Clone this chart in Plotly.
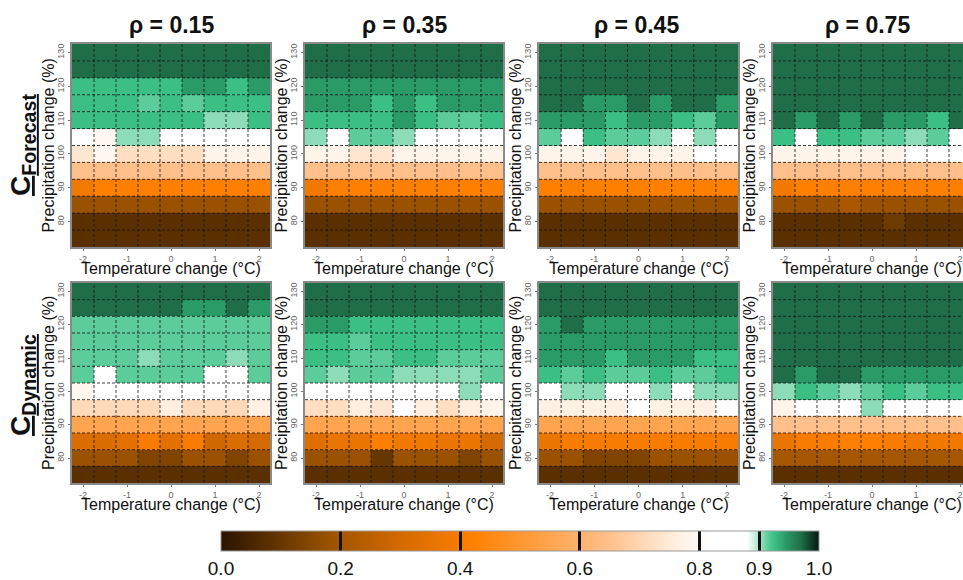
import plotly.graph_objects as go

# ---------------- data ----------------
temp_change = [-2, -1.5, -1, -0.5, 0, 0.5, 1, 1.5, 2]
precip_change = [130, 125, 120, 115, 110, 105, 100, 95, 90, 85, 80, 75]
rho_labels = ["ρ = 0.15", "ρ = 0.35", "ρ = 0.45", "ρ = 0.75"]
row_labels = ["Forecast", "Dynamic"]
x_tick_vals = [-2, -1, 0, 1, 2]
y_tick_vals = [80, 90, 100, 110, 120, 130]
cbar_tick_vals = [0.0, 0.2, 0.4, 0.6, 0.8, 0.9, 1.0]
cbar_tick_text = ["0.0", "0.2", "0.4", "0.6", "0.8", "0.9", "1.0"]

# rows: precipitation 130 (top) ... 75 (bottom); columns: temperature -2 ... 2
forecast_015 = [
    [0.97, 0.97, 0.97, 0.97, 0.97, 0.97, 0.97, 0.97, 0.97],
    [0.97, 0.97, 0.97, 0.97, 0.97, 0.97, 0.97, 0.97, 0.97],
    [0.925, 0.925, 0.925, 0.925, 0.925, 0.945, 0.945, 0.925, 0.945],
    [0.925, 0.925, 0.925, 0.915, 0.925, 0.915, 0.925, 0.925, 0.925],
    [0.925, 0.925, 0.925, 0.925, 0.925, 0.925, 0.905, 0.905, 0.925],
    [0.86, 0.79, 0.905, 0.905, 0.86, 0.86, 0.86, 0.86, 0.86],
    [0.74, 0.79, 0.72, 0.72, 0.72, 0.72, 0.78, 0.78, 0.78],
    [0.65, 0.65, 0.65, 0.65, 0.65, 0.65, 0.65, 0.65, 0.65],
    [0.38, 0.42, 0.42, 0.42, 0.42, 0.42, 0.42, 0.42, 0.42],
    [0.18, 0.18, 0.18, 0.18, 0.18, 0.18, 0.18, 0.18, 0.18],
    [0.08, 0.08, 0.08, 0.08, 0.08, 0.08, 0.08, 0.08, 0.08],
    [0.08, 0.08, 0.08, 0.08, 0.08, 0.08, 0.08, 0.08, 0.08],
]
forecast_035 = [
    [0.97, 0.97, 0.97, 0.97, 0.97, 0.97, 0.97, 0.97, 0.97],
    [0.97, 0.97, 0.97, 0.97, 0.97, 0.97, 0.97, 0.97, 0.97],
    [0.945, 0.945, 0.945, 0.945, 0.945, 0.945, 0.945, 0.945, 0.945],
    [0.945, 0.945, 0.945, 0.925, 0.945, 0.925, 0.945, 0.945, 0.945],
    [0.925, 0.925, 0.925, 0.925, 0.945, 0.925, 0.915, 0.915, 0.925],
    [0.905, 0.86, 0.915, 0.915, 0.905, 0.86, 0.86, 0.86, 0.86],
    [0.78, 0.78, 0.74, 0.74, 0.78, 0.78, 0.78, 0.78, 0.78],
    [0.65, 0.65, 0.65, 0.65, 0.65, 0.65, 0.65, 0.65, 0.65],
    [0.38, 0.42, 0.42, 0.42, 0.42, 0.42, 0.42, 0.42, 0.42],
    [0.18, 0.18, 0.18, 0.18, 0.18, 0.18, 0.18, 0.18, 0.18],
    [0.08, 0.08, 0.08, 0.08, 0.08, 0.08, 0.08, 0.08, 0.08],
    [0.08, 0.08, 0.08, 0.08, 0.08, 0.08, 0.08, 0.08, 0.08],
]
forecast_045 = [
    [0.97, 0.97, 0.97, 0.97, 0.97, 0.97, 0.97, 0.97, 0.97],
    [0.97, 0.97, 0.97, 0.97, 0.97, 0.97, 0.97, 0.97, 0.97],
    [0.97, 0.97, 0.97, 0.97, 0.97, 0.97, 0.97, 0.97, 0.97],
    [0.97, 0.97, 0.945, 0.945, 0.97, 0.945, 0.97, 0.97, 0.945],
    [0.945, 0.945, 0.945, 0.925, 0.945, 0.945, 0.925, 0.915, 0.945],
    [0.915, 0.86, 0.925, 0.915, 0.915, 0.905, 0.86, 0.905, 0.86],
    [0.78, 0.78, 0.78, 0.74, 0.78, 0.78, 0.78, 0.86, 0.86],
    [0.65, 0.65, 0.65, 0.65, 0.65, 0.65, 0.65, 0.65, 0.65],
    [0.42, 0.42, 0.42, 0.42, 0.42, 0.42, 0.42, 0.42, 0.42],
    [0.18, 0.18, 0.18, 0.18, 0.18, 0.18, 0.18, 0.18, 0.18],
    [0.08, 0.08, 0.08, 0.08, 0.08, 0.08, 0.08, 0.08, 0.08],
    [0.08, 0.08, 0.08, 0.08, 0.08, 0.08, 0.08, 0.08, 0.08],
]
forecast_075 = [
    [0.97, 0.97, 0.97, 0.97, 0.97, 0.97, 0.97, 0.97, 0.97],
    [0.97, 0.97, 0.97, 0.97, 0.97, 0.97, 0.97, 0.97, 0.97],
    [0.97, 0.97, 0.97, 0.97, 0.97, 0.97, 0.97, 0.97, 0.97],
    [0.97, 0.97, 0.97, 0.97, 0.97, 0.97, 0.97, 0.97, 0.97],
    [0.97, 0.945, 0.97, 0.945, 0.97, 0.945, 0.945, 0.925, 0.97],
    [0.925, 0.86, 0.925, 0.925, 0.915, 0.915, 0.905, 0.915, 0.86],
    [0.78, 0.78, 0.78, 0.78, 0.78, 0.78, 0.86, 0.86, 0.86],
    [0.65, 0.65, 0.65, 0.65, 0.65, 0.65, 0.65, 0.65, 0.65],
    [0.38, 0.42, 0.42, 0.42, 0.42, 0.42, 0.42, 0.42, 0.42],
    [0.18, 0.18, 0.18, 0.21, 0.18, 0.18, 0.18, 0.18, 0.18],
    [0.08, 0.08, 0.08, 0.08, 0.08, 0.11, 0.08, 0.08, 0.08],
    [0.08, 0.08, 0.08, 0.08, 0.08, 0.08, 0.08, 0.08, 0.08],
]
dynamic_015 = [
    [0.97, 0.97, 0.97, 0.97, 0.97, 0.97, 0.97, 0.97, 0.97],
    [0.97, 0.97, 0.97, 0.97, 0.97, 0.945, 0.945, 0.97, 0.945],
    [0.915, 0.915, 0.915, 0.915, 0.915, 0.915, 0.915, 0.915, 0.915],
    [0.915, 0.915, 0.915, 0.915, 0.915, 0.915, 0.915, 0.915, 0.915],
    [0.915, 0.915, 0.915, 0.905, 0.915, 0.915, 0.915, 0.905, 0.915],
    [0.915, 0.86, 0.915, 0.915, 0.915, 0.915, 0.86, 0.86, 0.915],
    [0.79, 0.86, 0.86, 0.86, 0.86, 0.86, 0.86, 0.86, 0.86],
    [0.71, 0.71, 0.71, 0.71, 0.76, 0.71, 0.71, 0.71, 0.77],
    [0.55, 0.55, 0.55, 0.55, 0.55, 0.55, 0.55, 0.55, 0.55],
    [0.32, 0.32, 0.34, 0.40, 0.34, 0.40, 0.29, 0.32, 0.30],
    [0.18, 0.18, 0.18, 0.14, 0.14, 0.18, 0.18, 0.14, 0.18],
    [0.08, 0.08, 0.08, 0.08, 0.08, 0.08, 0.08, 0.08, 0.08],
]
dynamic_035 = [
    [0.97, 0.97, 0.97, 0.97, 0.97, 0.97, 0.97, 0.97, 0.97],
    [0.97, 0.97, 0.97, 0.97, 0.97, 0.97, 0.97, 0.97, 0.97],
    [0.945, 0.945, 0.925, 0.925, 0.925, 0.925, 0.925, 0.925, 0.925],
    [0.925, 0.925, 0.915, 0.925, 0.925, 0.925, 0.925, 0.925, 0.925],
    [0.925, 0.925, 0.915, 0.915, 0.925, 0.925, 0.915, 0.915, 0.915],
    [0.915, 0.905, 0.915, 0.915, 0.905, 0.905, 0.905, 0.905, 0.915],
    [0.86, 0.86, 0.86, 0.86, 0.86, 0.86, 0.86, 0.905, 0.86],
    [0.72, 0.72, 0.76, 0.74, 0.86, 0.76, 0.72, 0.76, 0.78],
    [0.55, 0.55, 0.55, 0.55, 0.55, 0.55, 0.55, 0.55, 0.55],
    [0.33, 0.36, 0.36, 0.42, 0.38, 0.38, 0.36, 0.36, 0.30],
    [0.18, 0.18, 0.18, 0.10, 0.18, 0.18, 0.18, 0.14, 0.18],
    [0.08, 0.08, 0.08, 0.08, 0.08, 0.08, 0.08, 0.08, 0.08],
]
dynamic_045 = [
    [0.97, 0.97, 0.97, 0.97, 0.97, 0.97, 0.97, 0.97, 0.97],
    [0.97, 0.97, 0.97, 0.97, 0.97, 0.97, 0.97, 0.97, 0.97],
    [0.945, 0.97, 0.945, 0.945, 0.945, 0.945, 0.945, 0.945, 0.945],
    [0.945, 0.945, 0.945, 0.945, 0.945, 0.945, 0.945, 0.945, 0.945],
    [0.945, 0.945, 0.945, 0.925, 0.945, 0.945, 0.945, 0.925, 0.925],
    [0.925, 0.915, 0.925, 0.915, 0.915, 0.925, 0.915, 0.915, 0.925],
    [0.86, 0.905, 0.905, 0.86, 0.86, 0.905, 0.86, 0.905, 0.905],
    [0.77, 0.77, 0.77, 0.77, 0.86, 0.77, 0.77, 0.77, 0.86],
    [0.55, 0.55, 0.55, 0.55, 0.55, 0.55, 0.55, 0.55, 0.55],
    [0.36, 0.40, 0.40, 0.40, 0.40, 0.40, 0.40, 0.40, 0.40],
    [0.18, 0.18, 0.14, 0.14, 0.14, 0.18, 0.18, 0.18, 0.18],
    [0.08, 0.08, 0.08, 0.08, 0.08, 0.08, 0.08, 0.08, 0.08],
]
dynamic_075 = [
    [0.97, 0.97, 0.97, 0.97, 0.97, 0.97, 0.97, 0.97, 0.97],
    [0.97, 0.97, 0.97, 0.97, 0.97, 0.97, 0.97, 0.97, 0.97],
    [0.97, 0.97, 0.97, 0.97, 0.97, 0.97, 0.97, 0.97, 0.97],
    [0.97, 0.97, 0.97, 0.97, 0.97, 0.97, 0.97, 0.97, 0.97],
    [0.97, 0.97, 0.97, 0.97, 0.97, 0.97, 0.97, 0.97, 0.97],
    [0.97, 0.945, 0.97, 0.97, 0.945, 0.945, 0.945, 0.945, 0.945],
    [0.905, 0.925, 0.915, 0.905, 0.915, 0.925, 0.915, 0.925, 0.925],
    [0.78, 0.86, 0.86, 0.86, 0.905, 0.86, 0.86, 0.86, 0.86],
    [0.65, 0.65, 0.65, 0.65, 0.65, 0.65, 0.65, 0.65, 0.65],
    [0.36, 0.40, 0.40, 0.42, 0.42, 0.40, 0.38, 0.38, 0.38],
    [0.20, 0.20, 0.20, 0.20, 0.20, 0.20, 0.20, 0.20, 0.20],
    [0.08, 0.08, 0.08, 0.08, 0.08, 0.08, 0.08, 0.08, 0.08],
]
panels = [forecast_015, forecast_035, forecast_045, forecast_075,
          dynamic_015, dynamic_035, dynamic_045, dynamic_075]

# ---------------- styling ----------------
W, H = 963, 580
FONT = "Arial, Liberation Sans, sans-serif"
colorscale = [
    [0.0, "#2a1400"], [0.08, "#5a3000"], [0.18, "#9a5200"], [0.30, "#d46a00"],
    [0.42, "#ff8000"], [0.55, "#ffa54f"], [0.65, "#ffc08c"], [0.76, "#ffefe0"],
    [0.82, "#ffffff"], [0.88, "#ffffff"], [0.905, "#8ddcb8"], [0.915, "#5ccc9a"],
    [0.925, "#3cbf85"], [0.945, "#2a9a66"], [0.97, "#1f6e48"], [1.0, "#06180e"],
]
col_left = [72, 305, 539, 773]
col_width = [198, 198, 199, 198]
row_top = [44, 283]
row_height = [203, 200]

fig = go.Figure()
layout = dict(
    width=W, height=H, margin=dict(l=0, r=0, t=0, b=0, autoexpand=False),
    paper_bgcolor="white", plot_bgcolor="white",
    font=dict(family=FONT, color="#111"),
    showlegend=False,
    coloraxis=dict(
        colorscale=colorscale, cmin=0, cmax=1,
        colorbar=dict(
            orientation="h", lenmode="pixels", len=598, thickness=20,
            x=520 / W, xanchor="center", y=(H - 531) / H, yanchor="top",
            xpad=0, ypad=0,
            tickvals=cbar_tick_vals, ticktext=cbar_tick_text,
            ticks="inside", ticklen=20, tickwidth=3, tickcolor="#111",
            tickfont=dict(size=19, color="#111", family=FONT),
            outlinecolor="#999", outlinewidth=1,
        ),
    ),
)
shapes = []
annotations = []

x_bounds = [(temp_change[i] + temp_change[i + 1]) / 2 for i in range(len(temp_change) - 1)]
y_bounds = [(precip_change[i] + precip_change[i + 1]) / 2 for i in range(len(precip_change) - 1)]
dx = (temp_change[1] - temp_change[0]) / 2
dy = (precip_change[0] - precip_change[1]) / 2
x_lo, x_hi = temp_change[0] - dx, temp_change[-1] + dx
y_lo, y_hi = precip_change[-1] - dy, precip_change[0] + dy

for idx, z in enumerate(panels):
    r, c = divmod(idx, 4)
    n = idx + 1
    xa = "x" if n == 1 else f"x{n}"
    ya = "y" if n == 1 else f"y{n}"
    left, width = col_left[c], col_width[c]
    top, height = row_top[r], row_height[r]
    right = min(left + width, W)
    x_range_hi = x_lo + (x_hi - x_lo) * (right - left) / width

    fig.add_trace(go.Heatmap(
        x=temp_change, y=precip_change, z=z, coloraxis="coloraxis",
        xaxis=xa, yaxis=ya, xgap=0, ygap=0, hoverongaps=False,
    ))
    common = dict(showline=True, mirror=True, linecolor="#8a8a8a", linewidth=2,
                  showgrid=False, zeroline=False, ticks="outside", ticklen=2,
                  tickcolor="#777", tickfont=dict(size=9, color="#666", family=FONT))
    layout["xaxis" if n == 1 else f"xaxis{n}"] = dict(
        domain=[left / W, right / W], range=[x_lo, x_range_hi], anchor=ya,
        tickvals=x_tick_vals, ticktext=[str(v) for v in x_tick_vals], **common)
    layout["yaxis" if n == 1 else f"yaxis{n}"] = dict(
        domain=[1 - (top + height) / H, 1 - top / H], range=[y_lo, y_hi], anchor=xa,
        tickvals=y_tick_vals, tickangle=-90, **common)

    for xb in x_bounds:
        shapes.append(dict(type="line", xref=xa, yref=ya, x0=xb, x1=xb, y0=y_lo, y1=y_hi,
                           line=dict(color="rgba(20,20,20,0.8)", width=1, dash="3px,2px")))
    for yb in y_bounds:
        shapes.append(dict(type="line", xref=xa, yref=ya, x0=x_lo, x1=x_hi, y0=yb, y1=yb,
                           line=dict(color="rgba(20,20,20,0.8)", width=1, dash="3px,2px")))

    # axis titles
    annotations.append(dict(
        text="Precipitation change (%)", textangle=-90, xref="paper", yref="paper",
        x=(left - 24) / W, y=1 - (top + height / 2) / H, showarrow=False,
        xanchor="center", yanchor="middle", font=dict(size=16, color="#111", family=FONT)))
    annotations.append(dict(
        text="Temperature change (°C)", xref="paper", yref="paper",
        x=(left + width / 2) / W, y=1 - (top + height + 21) / H, showarrow=False,
        xanchor="center", yanchor="middle", font=dict(size=16, color="#111", family=FONT)))

title_x = [171, 404, 636, 867]
for c, lab in enumerate(rho_labels):
    annotations.append(dict(
        text=f"<b>{lab}</b>", xref="paper", yref="paper", x=title_x[c] / W,
        y=1 - 25 / H, showarrow=False, xanchor="center", yanchor="middle",
        font=dict(size=23, color="#111", family=FONT)))

row_label_y = [145, 385]
for r, lab in enumerate(row_labels):
    annotations.append(dict(
        text=f"<b><u>C<sub>{lab}</sub></u></b>", textangle=-90, xref="paper", yref="paper",
        x=22 / W, y=1 - row_label_y[r] / H, showarrow=False, xanchor="center",
        yanchor="middle", font=dict(size=28, color="#111", family=FONT)))

layout["shapes"] = shapes
layout["annotations"] = annotations
fig.update_layout(**layout)
fig.write_html("out.html")
